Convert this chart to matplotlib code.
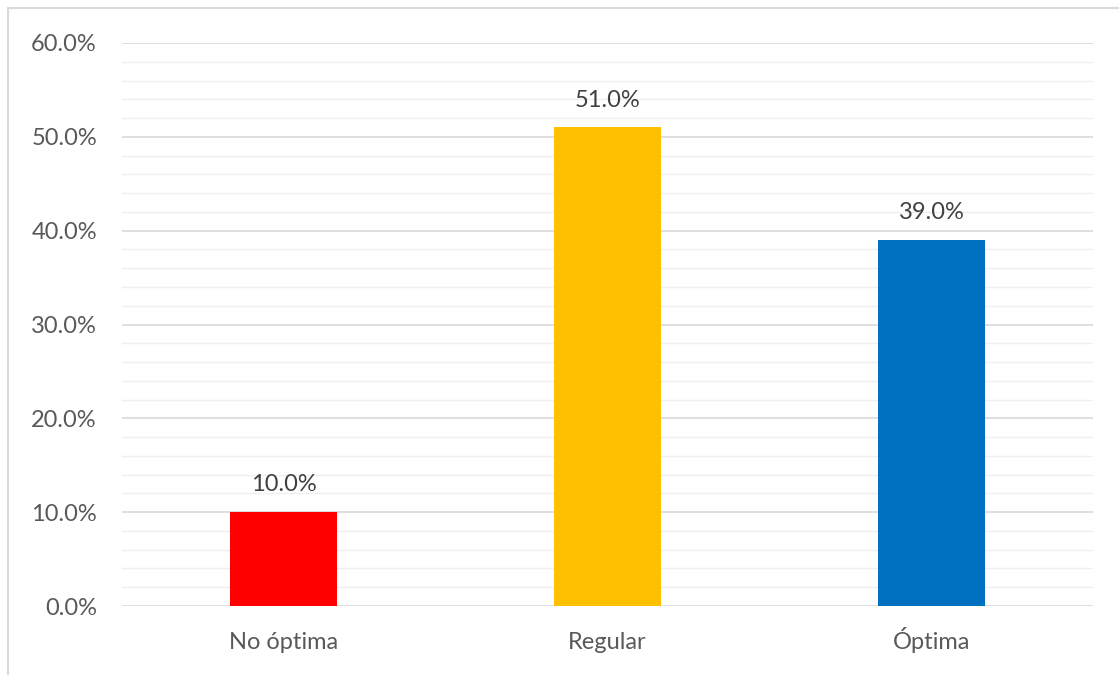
import matplotlib.pyplot as plt
from matplotlib.ticker import MultipleLocator, PercentFormatter

categorias = ["No óptima", "Regular", "Óptima"]
porcentajes = [10.0, 51.0, 39.0]
colores = ["#FF0000", "#FFC000", "#0070C0"]

plt.rcParams['font.family'] = ['Lato', 'DejaVu Sans']
gris = "#595959"

fig = plt.figure(figsize=(11.19, 6.75), dpi=100)
ax = fig.add_axes([0.109, 0.1022, 0.868, 0.8341])

barras = ax.bar(categorias, porcentajes, width=0.33, color=colores, zorder=3)
for b, v in zip(barras, porcentajes):
    ax.annotate(f"{v:.1f}%", (b.get_x() + b.get_width() / 2, v),
                xytext=(0, 15), textcoords="offset points",
                ha="center", va="baseline", fontsize=17, color="#404040")

ax.set_xlim(-0.5, 2.5)
ax.set_ylim(0, 60)
ax.yaxis.set_major_locator(MultipleLocator(10))
ax.yaxis.set_minor_locator(MultipleLocator(2))
ax.yaxis.set_major_formatter(PercentFormatter(decimals=1))
ax.grid(axis="y", which="major", color="#d9d9d9", linewidth=1.2, zorder=0)
ax.grid(axis="y", which="minor", color="#efefef", linewidth=1.0, zorder=0)
for s in ax.spines.values():
    s.set_visible(False)
ax.tick_params(axis="both", which="both", length=0, labelsize=17, colors=gris)
ax.tick_params(axis="y", pad=18)
ax.tick_params(axis="x", pad=31)
for t in ax.get_xticklabels():
    t.set_verticalalignment("baseline")

# marco gris del gráfico (solo arriba e izquierda visibles)
fig.add_artist(plt.Line2D([0.007, 1.0], [0.988, 0.988], color="#d9d9d9", lw=1.5))
fig.add_artist(plt.Line2D([0.007, 0.007], [0.0, 0.988], color="#d9d9d9", lw=1.5))

fig.savefig("out.png", dpi=100)
